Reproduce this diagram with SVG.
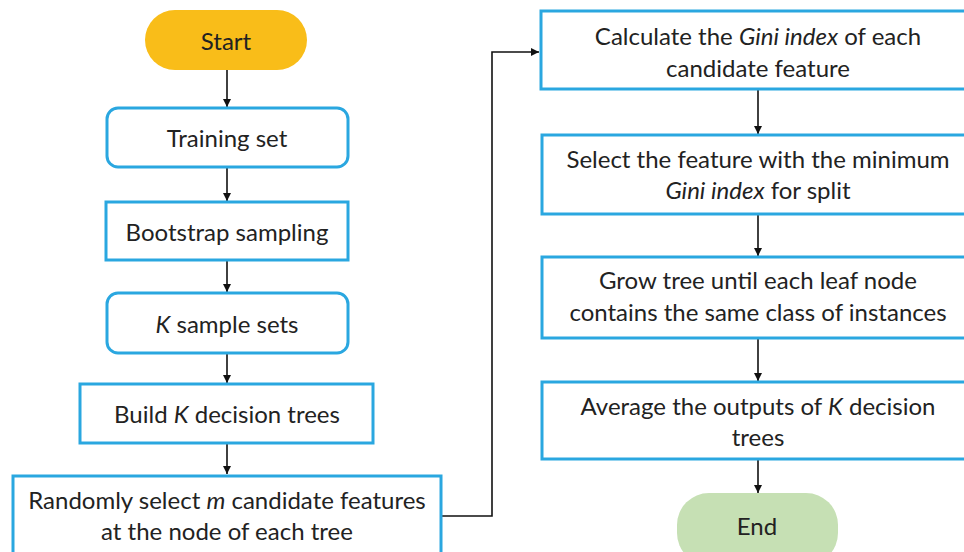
<svg xmlns="http://www.w3.org/2000/svg" width="964" height="552" viewBox="0 0 964 552">
<style>
.box{fill:#fff;stroke:#2AA7E0;stroke-width:3}
.t{font-family:Lato,"Liberation Sans",sans-serif;font-size:24px;fill:#222;text-anchor:middle}
.i{font-style:italic}
.c{fill:none;stroke:#111;stroke-width:1.6}
</style>
<defs>
<marker id="ah" viewBox="0 0 10 10" refX="10" refY="5" markerWidth="8" markerHeight="8" markerUnits="userSpaceOnUse" orient="auto">
<path d="M0,0 L10,5 L0,10 z" fill="#111"/>
</marker>
</defs>
<rect width="964" height="552" fill="#fff"/>
<g id="connectors">
<path class="c" marker-end="url(#ah)" d="M227,70 V107"/>
<path class="c" marker-end="url(#ah)" d="M227,168 V201"/>
<path class="c" marker-end="url(#ah)" d="M227,261 V292"/>
<path class="c" marker-end="url(#ah)" d="M227,354 V383"/>
<path class="c" marker-end="url(#ah)" d="M227,444 V474"/>
<path class="c" marker-end="url(#ah)" d="M442,516 H492 V52 H539"/>
<path class="c" marker-end="url(#ah)" d="M758,90 V134"/>
<path class="c" marker-end="url(#ah)" d="M758,215 V256"/>
<path class="c" marker-end="url(#ah)" d="M758,339 V381"/>
<path class="c" marker-end="url(#ah)" d="M758,460 V493"/>
</g>
<g id="start">
<rect x="145" y="10" width="162" height="60" rx="30" fill="#F9BD19"/>
<text class="t" x="226" y="50">Start</text>
</g>
<g id="training">
<rect class="box" x="107" y="108" width="241" height="59" rx="11"/>
<text class="t" x="227" y="147">Training set</text>
</g>
<g id="bootstrap">
<rect class="box" x="106" y="202" width="242" height="58"/>
<text class="t" x="227" y="241">Bootstrap sampling</text>
</g>
<g id="ksets">
<rect class="box" x="107" y="293" width="241" height="60" rx="11"/>
<text class="t" x="227" y="333"><tspan class="i">K</tspan> sample sets</text>
</g>
<g id="build">
<rect class="box" x="80" y="384" width="293" height="59"/>
<text class="t" x="227" y="423">Build <tspan class="i">K</tspan> decision trees</text>
</g>
<g id="random">
<rect class="box" x="13" y="476" width="428" height="84"/>
<text class="t" x="227" y="509">Randomly select <tspan class="i">m</tspan> candidate features</text>
<text class="t" x="227" y="540">at the node of each tree</text>
</g>
<g id="gini">
<rect class="box" x="541" y="11" width="436" height="78"/>
<text class="t" x="758" y="45">Calculate the <tspan class="i">Gini index</tspan> of each</text>
<text class="t" x="758" y="77">candidate feature</text>
</g>
<g id="select">
<rect class="box" x="542" y="135" width="435" height="79"/>
<text class="t" x="758" y="168">Select the feature with the minimum</text>
<text class="t" x="758" y="199"><tspan class="i">Gini index</tspan> for split</text>
</g>
<g id="grow">
<rect class="box" x="542" y="257" width="435" height="81"/>
<text class="t" x="758" y="289">Grow tree until each leaf node</text>
<text class="t" x="758" y="321">contains the same class of instances</text>
</g>
<g id="average">
<rect class="box" x="542" y="382" width="435" height="77"/>
<text class="t" x="758" y="415">Average the outputs of <tspan class="i">K</tspan> decision</text>
<text class="t" x="758" y="446">trees</text>
</g>
<g id="end">
<rect x="677" y="493" width="161" height="72" rx="32" fill="#C6E0B4"/>
<text class="t" x="757" y="535">End</text>
</g>
</svg>
